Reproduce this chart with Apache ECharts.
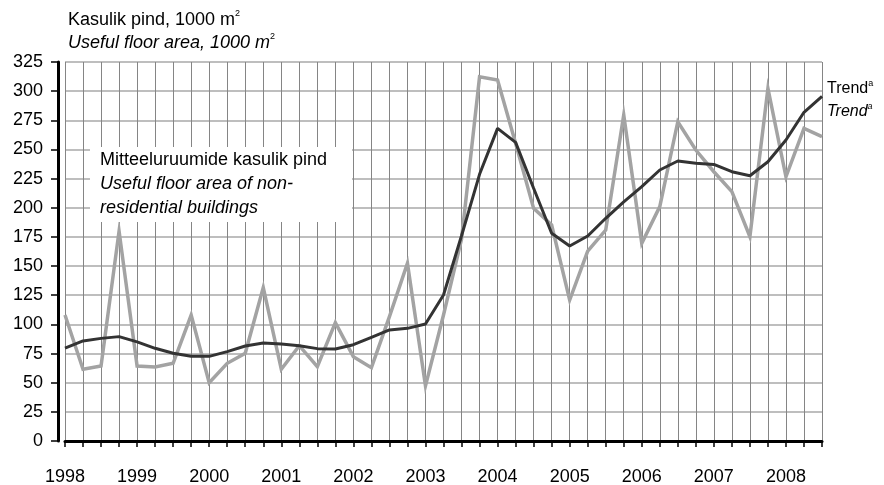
<!DOCTYPE html>
<html>
<head>
<meta charset="utf-8">
<script src="https://cdn.jsdelivr.net/npm/echarts@6/dist/echarts.min.js"></script>
<style>
html,body{margin:0;padding:0;background:#fff;}
#chart{width:884px;height:485px;}
</style>
</head>
<body>
<div id="chart"></div>
<script>
// Quarterly categories 1998 Q1 .. 2008 Q3
var years = ['1998','1999','2000','2001','2002','2003','2004','2005','2006','2007','2008'];
var quarters = ['I','II','III','IV'];
var categories = [];
years.forEach(function (y) { quarters.forEach(function (q) { categories.push(y + ' ' + q); }); });
categories = categories.slice(0, 43);

// Useful floor area of non-residential buildings, 1000 m2 (grey line)
var floorArea = [108, 61.5, 64.3, 180, 64.3, 63.5, 66.6, 108, 50, 66.6, 75.2, 131.5,
  61.5, 81.7, 63.7, 101.5, 72.3, 62.9, 106.6, 152.4, 47.2, 108, 173, 312.4,
  309.6, 255.3, 199.5, 185.2, 120.9, 162.9, 180.9, 279.6, 169.5, 201, 273.8, 249.5,
  230.9, 213.8, 175.2, 302.4, 226.6, 268.1, 261];
// Trend (dark line)
var trend = [79.7, 85.8, 88, 89.5, 85, 79.5, 75.2, 72.6, 72.6, 76.6, 81.5, 84,
  83.2, 81.7, 79.2, 78.9, 82.6, 88.9, 95.2, 96.6, 100.3, 125.2, 176, 228.7,
  268.1, 256.1, 216.7, 178.1, 167.2, 175.8, 191, 205, 218.1, 232.4, 240.1, 238.1,
  237.2, 230.9, 227.5, 239.5, 258.1, 281.9, 295.6];

var yTicks = [0, 25, 50, 75, 100, 125, 150, 175, 200, 225, 250, 275, 300, 325];

var FONT = "'Liberation Sans', Arial, sans-serif";
var FS = 18;
var chart = echarts.init(document.getElementById('chart'), null, {renderer: 'canvas'});

var supRich = {
  n: {fontSize: FS, fontFamily: FONT, color: '#000', lineHeight: 21, verticalAlign: 'bottom'},
  ni: {fontSize: FS, fontFamily: FONT, fontStyle: 'italic', color: '#000', lineHeight: 21, verticalAlign: 'bottom'},
  s: {fontSize: 9, fontFamily: FONT, color: '#000', lineHeight: 21, verticalAlign: 'top', padding: [1, 0, 0, 0]}
};

chart.setOption({
  animation: false,
  backgroundColor: '#fff',
  grid: {left: 65, right: 62, top: 62, bottom: 44, containLabel: false, outerBoundsMode: 'none'},
  xAxis: {
    type: 'category',
    data: categories,
    boundaryGap: false,
    offset: 10,
    axisLine: {show: true, lineStyle: {color: '#000', width: 3}},
    axisTick: {show: true, interval: 0, length: 6, lineStyle: {color: '#000', width: 1.5}},
    axisLabel: {
      interval: 3, margin: 17, color: '#000', fontSize: FS, fontFamily: FONT,
      formatter: function (v) { return v.split(' ')[0]; }
    },
    splitLine: {show: true, interval: 0, lineStyle: {color: '#858585', width: 1}}
  },
  yAxis: {
    type: 'value',
    min: 0, max: 325, interval: 25,
    offset: 7,
    axisLine: {show: true, lineStyle: {color: '#000', width: 3}},
    axisTick: {show: true, length: 7, lineStyle: {color: '#000', width: 1.5}},
    axisLabel: {
      margin: 15, color: '#000', fontSize: FS, fontFamily: FONT,
      formatter: function (v) { return yTicks.indexOf(v) >= 0 ? String(v) : ''; }
    },
    splitLine: {show: true, lineStyle: {color: '#a8a8a8', width: 1.5}}
  },
  series: [
    {
      name: 'Useful floor area', type: 'line', data: floorArea,
      symbol: 'none', z: 3,
      lineStyle: {color: '#a3a3a3', width: 3.5, join: 'miter'}
    },
    {
      name: 'Trend', type: 'line', data: trend,
      symbol: 'none', z: 4,
      lineStyle: {color: '#333333', width: 3}
    }
  ],
  graphic: [
    {type: 'text', left: 68, top: 8, z: 10,
      style: {text: '{n|Kasulik pind, 1000 m}{s|2}', rich: supRich}},
    {type: 'text', left: 68, top: 31, z: 10,
      style: {text: '{ni|Useful floor area, 1000 m}{s|2}', rich: supRich}},
    {type: 'rect', shape: {x: 90, y: 147, width: 262, height: 75}, z: 5,
      style: {fill: '#fff'}},
    {type: 'text', left: 100, top: 151, z: 10,
      style: {text: 'Mitteeluruumide kasulik pind', font: FS + 'px ' + FONT, fill: '#000'}},
    {type: 'text', left: 100, top: 175, z: 10,
      style: {text: 'Useful floor area of non-', font: 'italic ' + FS + 'px ' + FONT, fill: '#000'}},
    {type: 'text', left: 100, top: 199, z: 10,
      style: {text: 'residential buildings', font: 'italic ' + FS + 'px ' + FONT, fill: '#000'}},
    {type: 'text', left: 827, top: 78, z: 10,
      style: {text: '{n|Trend}{s|a}', rich: {
        n: {fontSize: 16, fontFamily: FONT, color: '#000', lineHeight: 19, verticalAlign: 'bottom'},
        s: {fontSize: 9, fontFamily: FONT, color: '#000', lineHeight: 19, verticalAlign: 'top', padding: [1, 0, 0, 0]}
      }}},
    {type: 'text', left: 827, top: 101, z: 10,
      style: {text: '{n|Trend}{s|a}', rich: {
        n: {fontSize: 16, fontFamily: FONT, fontStyle: 'italic', color: '#000', lineHeight: 19, verticalAlign: 'bottom'},
        s: {fontSize: 9, fontFamily: FONT, fontStyle: 'italic', color: '#000', lineHeight: 19, verticalAlign: 'top', padding: [1, 0, 0, 0]}
      }}}
  ]
});
</script>
</body>
</html>
